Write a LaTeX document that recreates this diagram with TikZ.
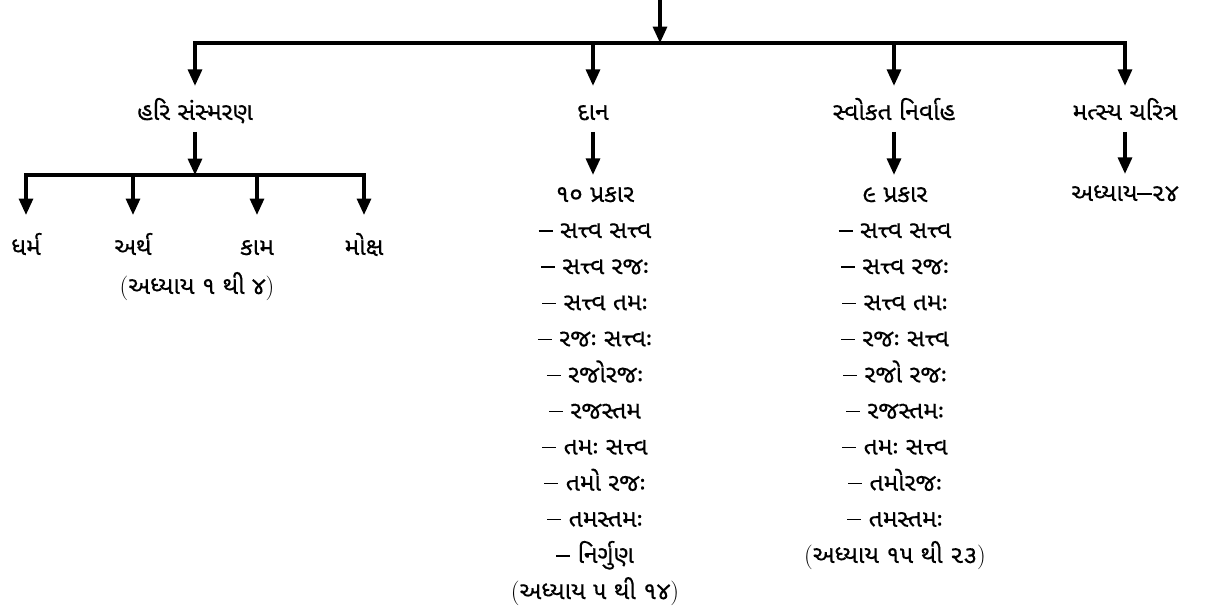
\documentclass[tikz,border=0pt]{standalone}
\usepackage{fontspec}
\newfontfamily\gujfont[Script=Gujarati, FakeBold=0.3]{Noto Sans Gujarati UI}
\usetikzlibrary{arrows.meta, positioning}

\newcommand\dsh{\rule[5.5pt]{12pt}{1.1pt}\space}

\begin{document}
\begin{tikzpicture}[x=0.03cm, y=-0.03cm,
    lbl/.style={font=\gujfont\fontsize{21}{25}\selectfont, inner sep=0pt, anchor=base,
      text height=#1, text depth=10pt},
    lbl/.default=23pt,
    bar/.style={line width=2.6pt, line cap=rect},
    arr/.style={line width=2.6pt, -{Triangle[length=14pt, width=12pt]}}]
    \useasboundingbox (0,0) rectangle (1218,615);

    % ઉપરની રેખા
    \coordinate (in) at (660,0);
    \coordinate (top) at (660,43);
    \coordinate (t1) at (195,43);
    \coordinate (t2) at (593,43);
    \coordinate (t3) at (894,43);
    \coordinate (t4) at (1125,43);
    \draw[bar] (t1) -- (t4);
    \draw[arr] (in) -- (top);

    % પ્રથમ સ્તર
    \node[lbl=29pt] (hari) at (195,120) {હરિ સંસ્મરણ};
    \node[lbl=29pt] (dan) at (593,120) {દાન};
    \node[lbl=29pt] (svo) at (894,120) {સ્વોકત નિર્વાહ};
    \node[lbl=29pt] (mat) at (1125,120) {મત્સ્ય ચરિત્ર};
    \draw[arr] (t1) -- (hari);
    \draw[arr] (t2) -- (dan);
    \draw[arr] (t3) -- (svo);
    \draw[arr] (t4) -- (mat);

    % હરિ સંસ્મરણ
    \coordinate (s0) at (195,175);
    \coordinate (s1) at (26,175);
    \coordinate (s2) at (133,175);
    \coordinate (s3) at (257,175);
    \coordinate (s4) at (364,175);
    \draw[arr] (hari) -- (s0);
    \draw[bar] (s1) -- (s4);
    \node[lbl=34pt] (dharma) at (26,255) {ધર્મ};
    \node[lbl=34pt] (artha) at (133,255) {અર્થ};
    \node[lbl=34pt] (kama) at (257,255) {કામ};
    \node[lbl=34pt] (moksha) at (364,255) {મોક્ષ};
    \draw[arr] (s1) -- (dharma);
    \draw[arr] (s2) -- (artha);
    \draw[arr] (s3) -- (kama);
    \draw[arr] (s4) -- (moksha);
    \node[lbl] (hadh) at (197,294) {\textrm{(}અધ્યાય ૧ થી ૪\textrm{)}};

    % દાન
    \foreach \t [count=\i] in {૧૦ પ્રકાર, \dsh સત્ત્વ સત્ત્વ, \dsh સત્ત્વ રજઃ,
        \dsh સત્ત્વ તમઃ, \dsh રજઃ સત્ત્વઃ, \dsh રજોરજઃ, \dsh રજસ્તમ,
        \dsh તમઃ સત્ત્વ, \dsh તમો રજઃ, \dsh તમસ્તમઃ, \dsh નિર્ગુણ,
        \textrm{(}અધ્યાય ૫ થી ૧૪\textrm{)}}
      \node[lbl] (d\i) at (595,{202+36.1*(\i-1)}) {\t};
    \draw[arr] (dan) -- (dan |- d1.north);

    % સ્વોકત નિર્વાહ
    \foreach \t [count=\i] in {૯ પ્રકાર, \dsh સત્ત્વ સત્ત્વ, \dsh સત્ત્વ રજઃ,
        \dsh સત્ત્વ તમઃ, \dsh રજઃ સત્ત્વ, \dsh રજો રજઃ, \dsh રજસ્તમઃ,
        \dsh તમઃ સત્ત્વ, \dsh તમોરજઃ, \dsh તમસ્તમઃ,
        \textrm{(}અધ્યાય ૧૫ થી ૨૩\textrm{)}}
      \node[lbl] (v\i) at (895,{202+36.1*(\i-1)}) {\t};
    \draw[arr] (svo) -- (svo |- v1.north);

    % મત્સ્ય ચરિત્ર
    \node[lbl] (m1) at (1125,201) {અધ્યાય\rule[5.5pt]{12pt}{1.1pt}૨૪};
    \draw[arr] (mat) -- (mat |- m1.north);
\end{tikzpicture}
\end{document}
